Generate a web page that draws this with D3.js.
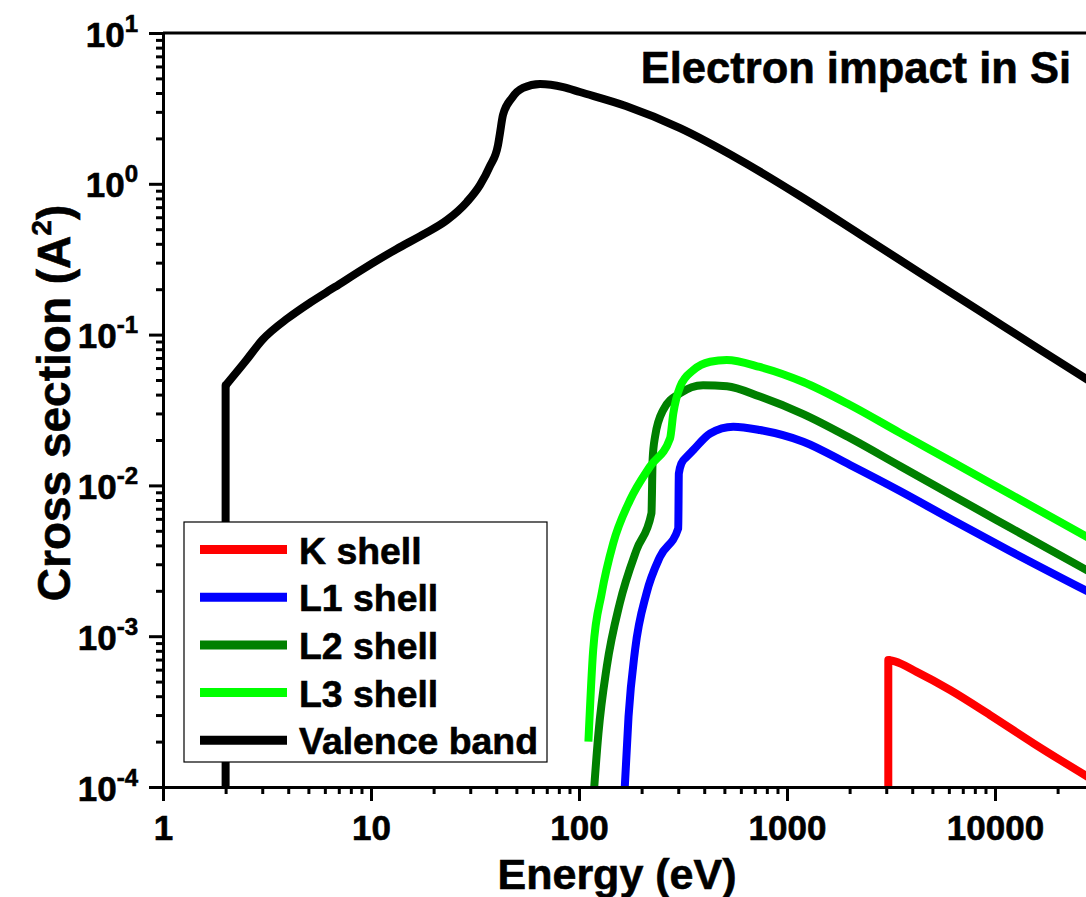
<!DOCTYPE html>
<html>
<head>
<meta charset="utf-8">
<script src="https://cdn.jsdelivr.net/npm/d3@7"></script>
<style>
  body { margin: 0; background: #fff; }
  svg { display: block; }
  text { font-family: "Liberation Sans", Arial, sans-serif; font-weight: bold; fill: #000; stroke: #000; stroke-width: 0.6px; }
</style>
</head>
<body>
<div id="chart"></div>
<script>
// data (energy in eV, cross section in A^2)
var kEnergy = [3069, 3069, 3300, 4200, 6080, 9470, 15300, 30000];
var kSigma = [1e-5, 6.95e-4, 6.8e-4, 5.8e-4, 4.4e-4, 3.0e-4, 1.95e-4, 1.1e-4];

var l1Energy = [166, 173, 186, 211, 245, 300, 302, 311, 330, 355, 427, 552, 741, 1197, 2010, 3490, 6310, 11800, 30000];
var l1Sigma = [1e-4, 2.92e-4, 8.1e-4, 1.92e-3, 3.36e-3, 5.19e-3, 1.2e-2, 1.40e-2, 1.55e-2, 1.72e-2, 2.21e-2, 2.45e-2, 2.33e-2, 1.95e-2, 1.365e-2, 9.18e-3, 5.85e-3, 3.67e-3, 1.88e-3];

var l2Energy = [117, 124, 136, 157, 189, 223, 226, 232, 254, 306, 395, 515, 741, 1197, 2010, 3490, 6310, 11800, 30000];
var l2Sigma = [8e-5, 2.27e-4, 6.28e-4, 1.65e-3, 3.73e-3, 6.53e-3, 1.5e-2, 2.1e-2, 3.16e-2, 4.08e-2, 4.62e-2, 4.55e-2, 3.88e-2, 2.97e-2, 2.06e-2, 1.345e-2, 8.51e-3, 5.26e-3, 2.57e-3];

var l3Energy = [111, 117, 128.5, 146, 176, 219, 274, 284, 306, 355, 427, 513, 741, 1197, 2010, 3490, 6310, 11800, 30000];
var l3Sigma = [2.0e-4, 8.1e-4, 1.92e-3, 4.13e-3, 8.0e-3, 1.33e-2, 2.05e-2, 3.0e-2, 4.5e-2, 5.82e-2, 6.61e-2, 6.79e-2, 6.10e-2, 4.85e-2, 3.41e-2, 2.23e-2, 1.42e-2, 8.77e-3, 4.28e-3];

var vbEnergy = [2, 2, 2.48, 3, 4, 5.1, 6.71, 9.15, 13.3, 17.8, 23.2, 28.9, 33.4, 37.3, 40.8, 41.7, 43.1, 47.6, 53.8, 65, 84, 101, 168, 306, 594, 1155, 2244, 4357, 8466, 16450, 30000];
var vbSigma = [1e-5, 0.046, 0.066, 0.092, 0.129, 0.163, 0.207, 0.272, 0.370, 0.461, 0.575, 0.757, 0.98, 1.31, 1.81, 2.17, 2.86, 3.71, 4.32, 4.59, 4.38, 4.06, 3.28, 2.34, 1.44, 0.83, 0.462, 0.257, 0.143, 0.0795, 0.047];

var seriesNames = ["K shell", "L1 shell", "L2 shell", "L3 shell", "Valence band"];
var seriesColors = ["#ff0000", "#0000ff", "#008000", "#00ff00", "#000000"];

var xMajor = [1, 10, 100, 1000, 10000];
var xTickLabels = ["1", "10", "100", "1000", "10000"];
var yMajor = [1e-4, 1e-3, 1e-2, 1e-1, 1, 10];
var yExponents = ["-4", "-3", "-2", "-1", "0", "1"];

var width = 1086, height = 897;
var plotLeft = 163, plotTop = 33, plotBottom = 787;

var x = d3.scaleLog().domain([1, 30000]).range([plotLeft, plotLeft + 208 * Math.log10(30000)]);
var y = d3.scaleLog().domain([1e-4, 10]).range([plotBottom, plotTop]);
var plotRight = x.range()[1];

function minorTicks(majors, lastMax) {
    var out = [];
    majors.forEach(function (m) {
        for (var k = 2; k < 10; k++) {
            if (m * k <= lastMax) out.push(m * k);
        }
    });
    return out;
}

var series = [
    { energy: kEnergy, sigma: kSigma },
    { energy: l1Energy, sigma: l1Sigma },
    { energy: l2Energy, sigma: l2Sigma },
    { energy: l3Energy, sigma: l3Sigma },
    { energy: vbEnergy, sigma: vbSigma }
].map(function (s, i) {
    return {
        name: seriesNames[i],
        color: seriesColors[i],
        points: s.energy.map(function (e, j) { return [e, s.sigma[j]]; })
    };
});

var svg = d3.select("#chart").append("svg")
    .attr("width", width)
    .attr("height", height);

svg.append("clipPath").attr("id", "plot-clip")
    .append("rect")
    .attr("x", plotLeft)
    .attr("y", plotTop)
    .attr("width", plotRight - plotLeft)
    .attr("height", plotBottom - plotTop);

var line = d3.line()
    .curve(d3.curveMonotoneX)
    .x(function (d) { return x(d[0]); })
    .y(function (d) { return y(d[1]); });

var straight = d3.line()
    .x(function (d) { return x(d[0]); })
    .y(function (d) { return y(d[1]); });

var curves = svg.append("g")
    .attr("clip-path", "url(#plot-clip)")
    .selectAll("g")
    .data(series)
    .enter()
    .append("g")
    .attr("fill", "none")
    .attr("stroke", function (d) { return d.color; })
    .attr("stroke-width", 8)
    .attr("stroke-linejoin", "round");

// a threshold that rises straight up is drawn as its own segment, so the curve keeps a sharp corner there
curves.each(function (d) {
    var g = d3.select(this);
    var p = d.points;
    if (p[0][0] === p[1][0]) {
        g.append("path").attr("d", straight(p.slice(0, 2))).attr("stroke-linecap", "round");
        g.append("path").attr("d", line(p.slice(1)));
    } else {
        g.append("path").attr("d", line(p));
    }
});

// top frame line
svg.append("line")
    .attr("x1", plotLeft).attr("x2", plotRight)
    .attr("y1", plotTop).attr("y2", plotTop)
    .attr("stroke", "#000")
    .attr("stroke-width", 3);

// x axis: minor then major ticks
svg.append("g")
    .attr("class", "axis")
    .attr("transform", "translate(0," + plotBottom + ")")
    .call(d3.axisBottom(x).tickValues(minorTicks(xMajor, 30000)).tickSize(7).tickSizeOuter(0).tickFormat(""));

var xAxis = svg.append("g")
    .attr("class", "axis")
    .attr("transform", "translate(0," + plotBottom + ")")
    .call(d3.axisBottom(x).tickValues(xMajor).tickSize(14).tickSizeOuter(0)
        .tickFormat(function (d, i) { return xTickLabels[i]; }));

xAxis.selectAll("text")
    .attr("y", 0)
    .attr("dy", 53)
    .style("font-size", "35px");

// y axis
svg.append("g")
    .attr("class", "axis")
    .attr("transform", "translate(" + plotLeft + ",0)")
    .call(d3.axisLeft(y).tickValues(minorTicks(yMajor.slice(0, 5), 10)).tickSize(7).tickSizeOuter(0).tickFormat(""));

var yAxis = svg.append("g")
    .attr("class", "axis")
    .attr("transform", "translate(" + plotLeft + ",0)")
    .call(d3.axisLeft(y).tickValues(yMajor).tickSize(14).tickSizeOuter(0).tickFormat(""));

yAxis.selectAll(".tick text").remove();
yAxis.selectAll(".tick").each(function (d, i) {
    var t = d3.select(this).append("text")
        .attr("x", -25)
        .attr("y", 13)
        .attr("text-anchor", "end")
        .style("font-size", "35px");
    t.append("tspan").text("10");
    t.append("tspan").attr("dy", -15).style("font-size", "24px").text(yExponents[i]);
});

svg.selectAll(".axis .domain")
    .attr("stroke", "#000")
    .attr("stroke-width", 3)
    .attr("stroke-linecap", "square");
svg.selectAll(".axis .tick line")
    .attr("stroke", "#000")
    .attr("stroke-width", 3);

// axis titles
svg.append("text")
    .attr("x", 617)
    .attr("y", 889)
    .attr("text-anchor", "middle")
    .style("font-size", "43px")
    .text("Energy (eV)");

var yTitle = svg.append("text")
    .attr("transform", "translate(70,403) rotate(-90)")
    .attr("text-anchor", "middle")
    .style("font-size", "46px");
yTitle.append("tspan").text("Cross section (A");
yTitle.append("tspan").attr("dy", -19).style("font-size", "28px").text("2");
yTitle.append("tspan").attr("dy", 19).text(")");

svg.append("text")
    .attr("x", 1071)
    .attr("y", 83)
    .attr("text-anchor", "end")
    .style("font-size", "43.5px")
    .text("Electron impact in Si");

// legend
var legend = svg.append("g");
legend.append("rect")
    .attr("x", 184).attr("y", 522)
    .attr("width", 363).attr("height", 240)
    .attr("fill", "#fff")
    .attr("stroke", "#000")
    .attr("stroke-width", 1.2);

var item = legend.selectAll(".item")
    .data(series)
    .enter()
    .append("g")
    .attr("class", "item")
    .attr("transform", function (d, i) { return "translate(0," + (549.5 + i * 47.7) + ")"; });

item.append("line")
    .attr("x1", 200).attr("x2", 287)
    .attr("stroke", function (d) { return d.color; })
    .attr("stroke-width", 9);

item.append("text")
    .attr("x", 299)
    .attr("y", 14)
    .style("font-size", "37.4px")
    .text(function (d) { return d.name; });
</script>
</body>
</html>
